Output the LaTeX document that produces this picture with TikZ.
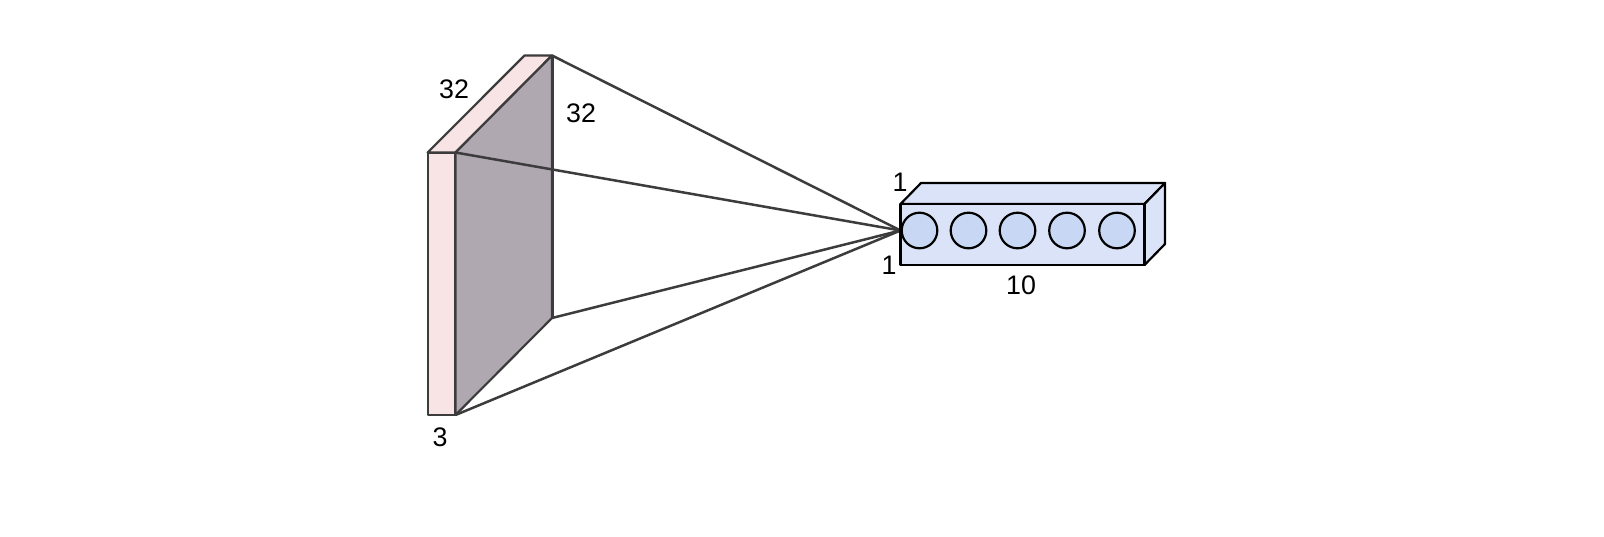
\documentclass[tikz,border=0pt]{standalone}
\usepackage{fontspec}
\setmainfont{Liberation Sans}
\definecolor{pinkf}{HTML}{F8E4E4}
\definecolor{purpf}{HTML}{B0A8B1}
\definecolor{boxf}{HTML}{DAE3F7}
\definecolor{circf}{HTML}{C8D8F4}
\definecolor{edgec}{HTML}{3C3C3C}
\begin{document}
\begin{tikzpicture}[x=0.5pt,y=-0.5pt,line join=round,
  face/.style={draw=edgec,line width=1.1pt},
  conn/.style={draw=edgec,line width=1.25pt},
  unit/.style={circle,draw=black,fill=circf,line width=1.1pt,minimum size=17.8pt,inner sep=0pt},
  lbl/.style={font=\fontsize{13.4}{16}\selectfont,inner sep=0pt}]
\useasboundingbox (0,0) rectangle (1604,536);
% input volume
\coordinate (FTL) at (427.6,152.5);
\coordinate (FTR) at (455.5,152.5);
\coordinate (FBL) at (427.6,415);
\coordinate (FBR) at (455.5,415);
\coordinate (BTL) at (524.5,55.5);
\coordinate (BTR) at (552,55.5);
\coordinate (BBR) at (552,318);
\filldraw[face,fill=pinkf] (FTL) -- (FTR) -- (FBR) -- (FBL) -- cycle;
\filldraw[face,fill=pinkf] (FTL) -- (BTL) -- (BTR) -- (FTR) -- cycle;
\filldraw[face,fill=purpf] (FTR) -- (BTR) -- (BBR) -- (FBR) -- cycle;
\draw[edgec,line width=1.5pt] (BTR) -- (BBR);
% output box
\coordinate (OFTL) at (900.5,204);
\coordinate (OFTR) at (1144.5,204);
\coordinate (OFBR) at (1144.5,265);
\coordinate (OFBL) at (900.5,265);
\coordinate (OBTL) at (921,183);
\coordinate (OBTR) at (1165,183);
\coordinate (OBBR) at (1165,244);
\coordinate (P) at (900.5,230.5);
% connectors
\draw[conn] (BTR) -- (P);
\draw[conn] (FTR) -- (P);
\draw[conn] (BBR) -- (P);
\draw[conn] (FBR) -- (P);
\filldraw[face,draw=black,fill=boxf] (OFTL) -- (OBTL) -- (OBTR) -- (OFTR) -- cycle;
\filldraw[face,draw=black,fill=boxf] (OFTR) -- (OBTR) -- (OBBR) -- (OFBR) -- cycle;
\filldraw[face,draw=black,fill=boxf] (OFTL) -- (OFTR) -- (OFBR) -- (OFBL) -- cycle;
\node[unit] (u1) at (919.5,230.5) {};
\node[unit] (u2) at (968.5,230.5) {};
\node[unit] (u3) at (1017.5,230.5) {};
\node[unit] (u4) at (1067,230.5) {};
\node[unit] (u5) at (1117,230.5) {};
% labels
\node[lbl] (l32a) at (454,89) {32};
\node[lbl] (l32b) at (581,113) {32};
\node[lbl] (l3) at (440,437) {3};
\node[lbl] (l1a) at (900,182) {1};
\node[lbl] (l1b) at (889,265) {1};
\node[lbl] (l10) at (1021,285) {10};
\end{tikzpicture}
\end{document}
